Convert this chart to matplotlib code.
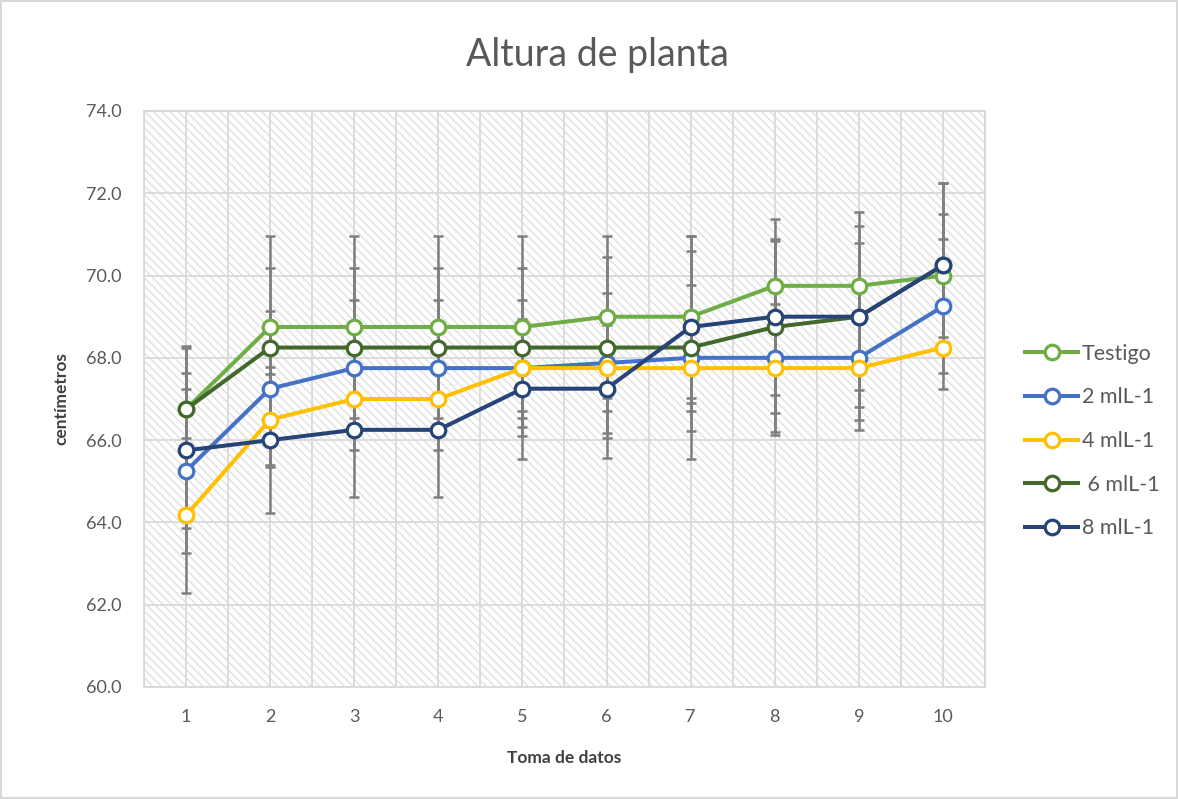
import matplotlib
matplotlib.use("Agg")
import matplotlib.pyplot as plt
from matplotlib.patches import Rectangle
import numpy as np

plt.rcParams['font.family'] = ['Lato', 'DejaVu Sans']
plt.rcParams['hatch.linewidth'] = 1.0

# datos
tomas = [1, 2, 3, 4, 5, 6, 7, 8, 9, 10]
series = ["Testigo", "2 mlL-1", "4 mlL-1", " 6 mlL-1", "8 mlL-1"]
colores = ["#70AD47", "#4472C4", "#FFC000", "#43682B", "#264478"]

testigo = [66.75, 68.75, 68.75, 68.75, 68.75, 69.0, 69.0, 69.75, 69.75, 70.0]
ml2 = [65.25, 67.25, 67.75, 67.75, 67.75, 67.875, 68.0, 68.0, 68.0, 69.25]
ml4 = [64.17, 66.5, 67.0, 67.0, 67.75, 67.75, 67.75, 67.75, 67.75, 68.25]
ml6 = [66.75, 68.25, 68.25, 68.25, 68.25, 68.25, 68.25, 68.75, 69.0, 70.25]
ml8 = [65.75, 66.0, 66.25, 66.25, 67.25, 67.25, 68.75, 69.0, 69.0, 70.25]

err_testigo = [1.54, 2.22, 2.22, 2.22, 2.22, 1.97, 1.97, 1.62, 1.8, 1.5]
err_ml2 = [2.0, 1.9, 1.66, 1.66, 1.66, 1.7, 1.77, 1.88, 1.75, 1.63]
err_ml4 = [1.88, 1.1, 1.24, 1.24, 1.04, 1.04, 1.04, 1.55, 1.26, 1.01]
err_ml6 = [1.48, 1.93, 1.93, 1.93, 1.93, 2.21, 2.72, 2.1, 1.78, 2.01]
err_ml8 = [1.89, 1.78, 1.63, 1.63, 1.7, 1.69, 1.85, 1.9, 2.2, 2.01]

valores = [testigo, ml2, ml4, ml6, ml8]
errores = [err_testigo, err_ml2, err_ml4, err_ml6, err_ml8]

fig = plt.figure(figsize=(11.78, 7.99), dpi=100)
fig.patch.set_edgecolor("#d9d9d9")
fig.patch.set_linewidth(1.5)
ax = fig.add_axes([0.1222, 0.1402, 0.714, 0.7209])

# fondo rayado
ax.add_patch(Rectangle((0, 0), 1, 1, transform=ax.transAxes, facecolor="white",
                       edgecolor="#e0e0e0", linewidth=0, hatch="\\\\\\\\", zorder=0))

for v, e in zip(valores, errores):
    ax.errorbar(tomas, v, yerr=e, fmt="none", ecolor="#7f7f7f", elinewidth=1.8,
                capsize=3.6, capthick=1.8, zorder=2)

for v, nombre, c in zip(valores, series, colores):
    ax.plot(tomas, v, color=c, lw=2.9, marker="o", ms=10.5, mfc="white",
            mec=c, mew=2.3, label=nombre, zorder=3)

ax.set_xlim(0.5, 10.5)
ax.set_ylim(60, 74)
ax.set_yticks(np.arange(60, 74.1, 2))
ax.set_yticklabels([f"{t:.1f}" for t in np.arange(60, 74.1, 2)])
ax.set_xticks(tomas)
ax.set_xticks(np.arange(0.5, 10.6, 1.0), minor=True)
ax.tick_params(axis="both", which="both", length=0, labelsize=13,
               labelcolor="#595959", pad=16)
ax.grid(axis="y", which="major", color="#d9d9d9", lw=1.3, zorder=1)
ax.grid(axis="x", which="both", color="#d9d9d9", lw=1.3, zorder=1)
ax.set_axisbelow(True)
for s in ax.spines.values():
    s.set_color("#d9d9d9")
    s.set_linewidth(1.3)

ax.set_xlabel("Toma de datos", fontsize=12.5, fontweight="bold", color="#404040", labelpad=18)
ax.set_ylabel("centímetros", fontsize=12.5, fontweight="bold", color="#404040", labelpad=12)
fig.text(0.507, 0.931, "Altura de planta", ha="center", va="center",
         fontsize=27, color="#595959")

leg = fig.legend(loc="center left", bbox_to_anchor=(0.854, 0.448), frameon=False,
                 fontsize=15.5, labelspacing=1.1, handlelength=2.45, handletextpad=0.18)
for t in leg.get_texts():
    t.set_color("#595959")

fig.savefig("out.png", dpi=100)
